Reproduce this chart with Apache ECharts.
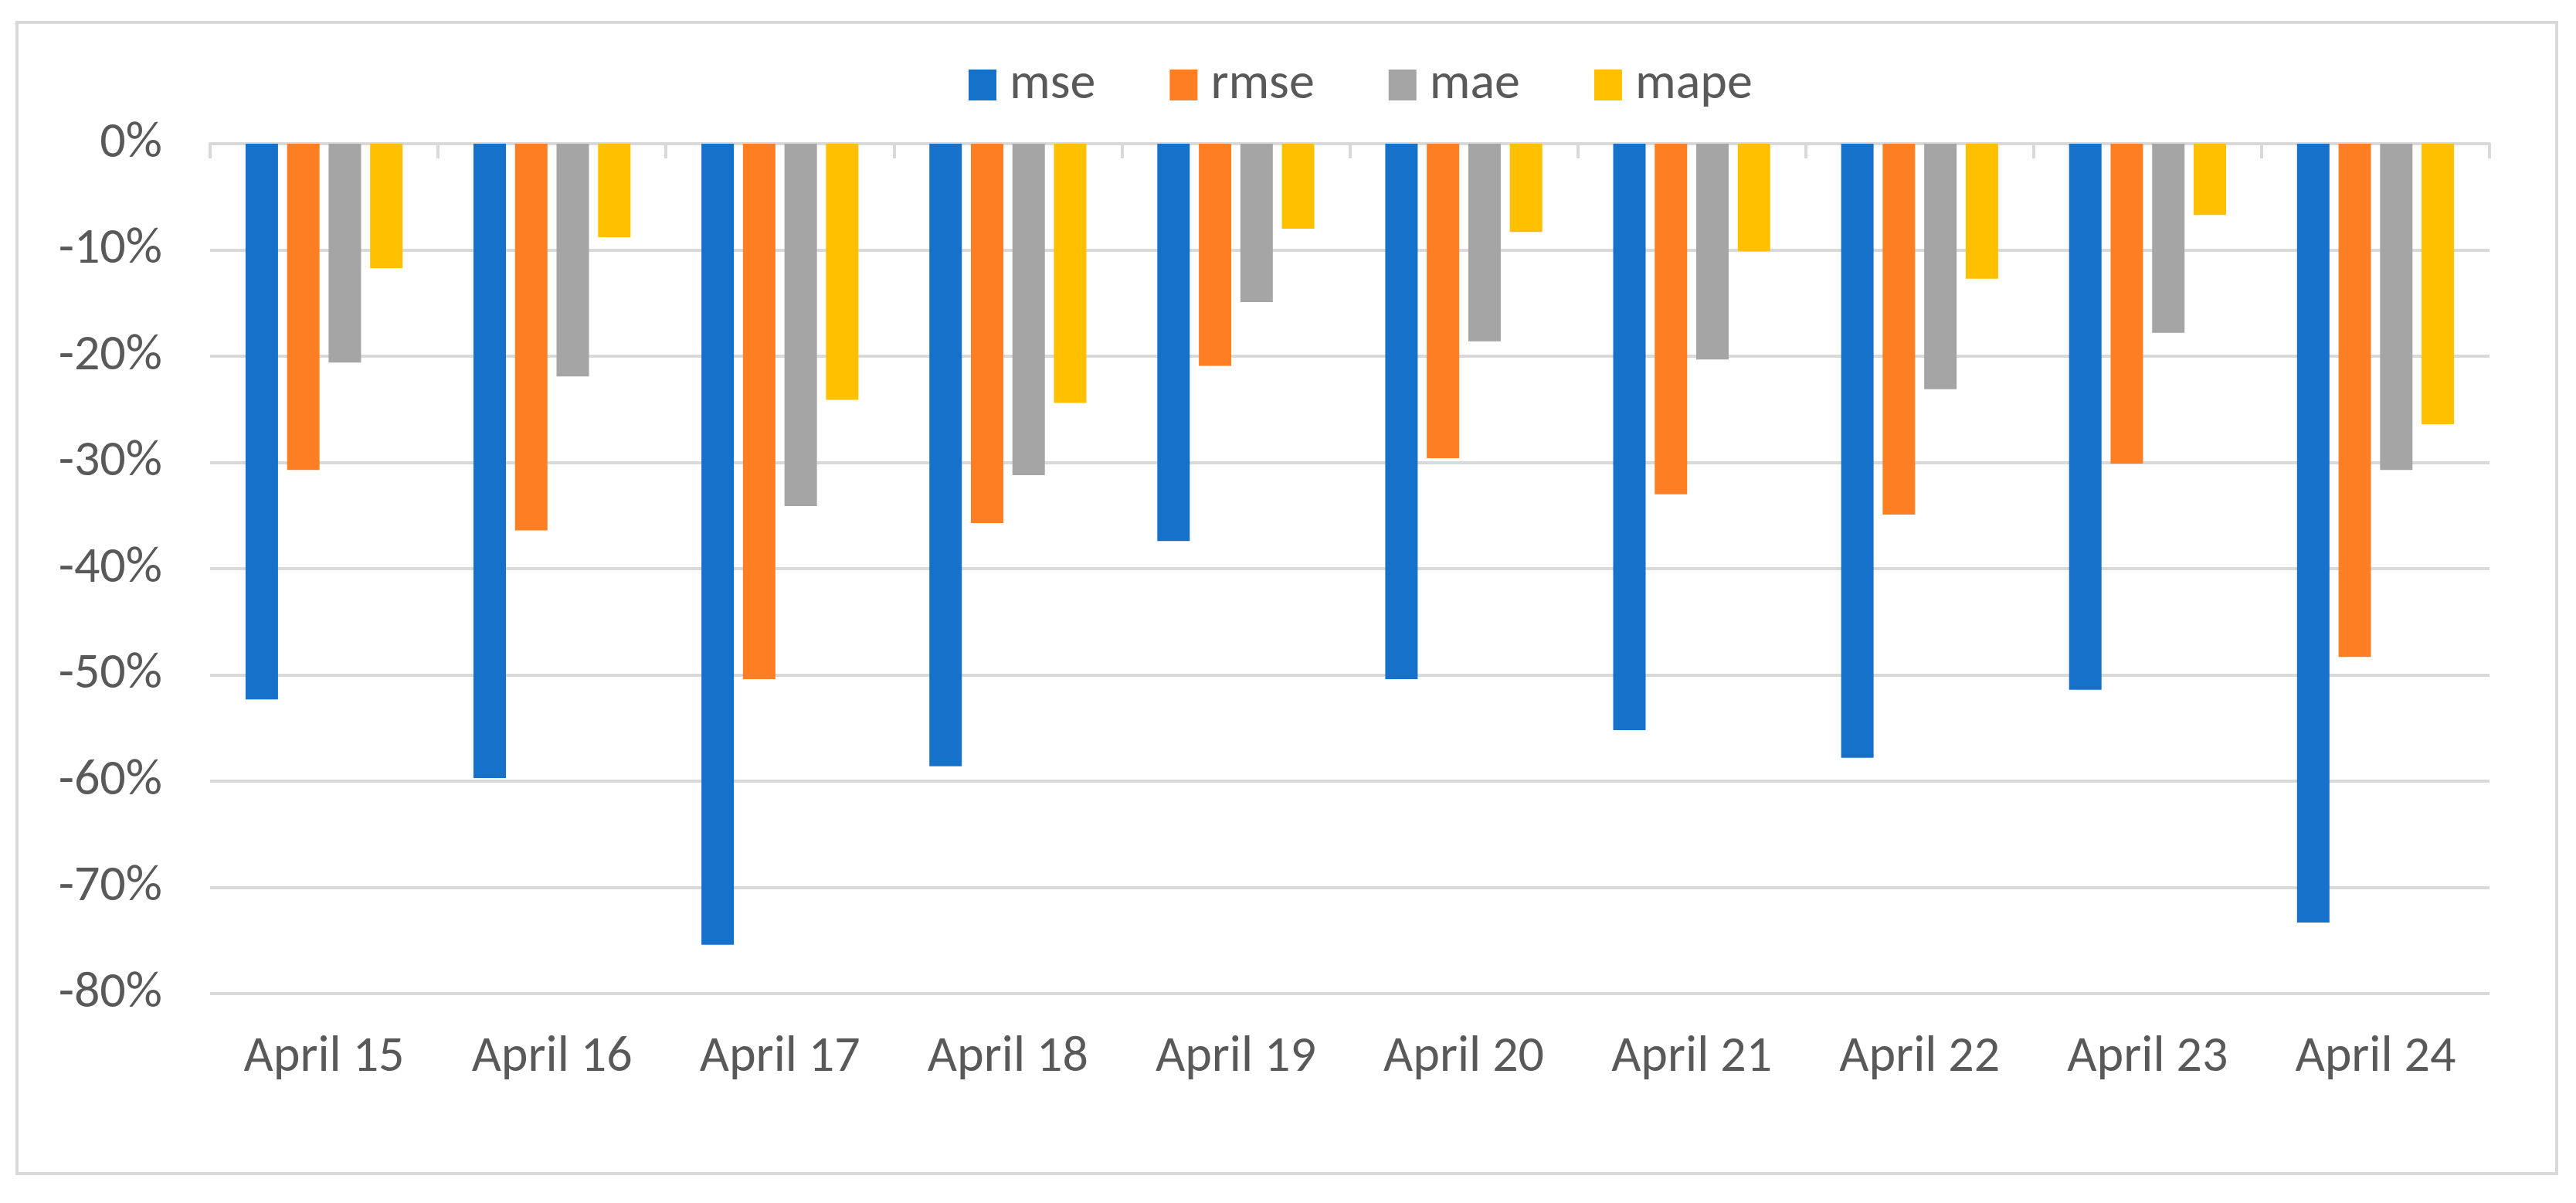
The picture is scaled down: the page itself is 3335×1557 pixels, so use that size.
<!DOCTYPE html>
<html>
<head>
<meta charset="utf-8">
<script src="https://cdn.jsdelivr.net/npm/echarts@6/dist/echarts.min.js"></script>
<style>
html,body{margin:0;padding:0;background:#fff;}
#c{width:3335px;height:1557px;}
</style>
</head>
<body>
<div id="c"></div>
<script>
const categories = ['April 15','April 16','April 17','April 18','April 19','April 20','April 21','April 22','April 23','April 24'];
const mse  = [-52.3, -59.7, -75.4, -58.6, -37.4, -50.4, -55.2, -57.8, -51.4, -73.3];
const rmse = [-30.7, -36.4, -50.4, -35.7, -20.9, -29.6, -33.0, -34.9, -30.1, -48.3];
const mae  = [-20.6, -21.9, -34.1, -31.2, -14.9, -18.6, -20.3, -23.1, -17.8, -30.7];
const mape = [-11.7, -8.8, -24.1, -24.4, -8.0, -8.3, -10.1, -12.7, -6.7, -26.4];
const seriesNames = ['mse','rmse','mae','mape'];
const seriesColors = ['#1571C9','#FD7E23','#A5A5A5','#FFC000'];
const yTicks = {min:-80, max:0, interval:10};

const FONT = "'Liberation Sans Narrow','Carlito','Liberation Sans',sans-serif";
const TXT = '#595959';
const chart = echarts.init(document.getElementById('c'), null, {renderer:'canvas'});
const dataArr = [mse, rmse, mae, mape];
chart.setOption({
  backgroundColor:'#ffffff',
  animation:false,
  graphic:[{type:'rect', shape:{x:22,y:29,width:3288,height:1490}, style:{fill:'none', stroke:'#d9d9d9', lineWidth:4}, silent:true}],
  legend:{
    left:1249, top:72, itemWidth:36, itemHeight:40, itemGap:96,
    icon:'rect',
    textStyle:{fontFamily:FONT, fontSize:66, color:TXT, padding:[0,0,0,12]},
    data:seriesNames
  },
  grid:{left:272, right:112, top:186, bottom:271, containLabel:false},
  xAxis:[{
    type:'category', data:categories, position:'bottom',
    axisLine:{show:false}, axisTick:{show:false},
    axisLabel:{fontFamily:FONT, fontSize:66, color:TXT, margin:50}
  },{
    type:'category', data:categories, position:'top',
    axisLine:{show:true, lineStyle:{color:'#d9d9d9', width:4}},
    axisTick:{show:true, inside:true, length:19, lineStyle:{color:'#d9d9d9', width:4}},
    axisLabel:{show:false}
  }],
  yAxis:{
    type:'value', min:yTicks.min, max:yTicks.max, interval:yTicks.interval,
    axisLine:{show:false}, axisTick:{show:false},
    axisLabel:{fontFamily:FONT, fontSize:66, color:TXT, margin:62, formatter:'{value}%'},
    splitLine:{lineStyle:{color:'#d9d9d9', width:4}}
  },
  series: seriesNames.map((n,i)=>({
    name:n, type:'bar', data:dataArr[i], xAxisIndex:0,
    barWidth:42, barGap:'28%',
    itemStyle:{color:seriesColors[i]}
  }))
});
</script>
</body>
</html>
